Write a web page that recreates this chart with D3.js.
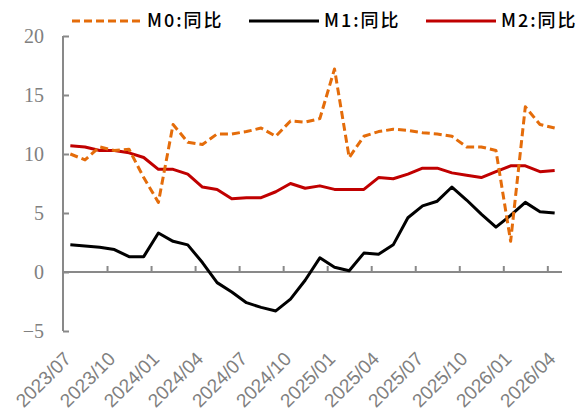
<!DOCTYPE html>
<meta charset="utf-8">
<style>
body { margin: 0; background: #fff; }
.ylab text { font: 20px "Liberation Serif", "Times New Roman", serif; fill: #808080; }
.xlab { font: 19px "Liberation Sans", Arial, sans-serif; fill: #808080; }
.legend text { font: 500 18px "Noto Sans CJK SC", sans-serif; fill: #000; }
</style>
<svg width="579" height="414"></svg>
<script src="https://d3js.org/d3.v7.min.js"></script>
<script>

var months = ["2023/07","2023/08","2023/09","2023/10","2023/11","2023/12",
  "2024/01","2024/02","2024/03","2024/04","2024/05","2024/06",
  "2024/07","2024/08","2024/09","2024/10","2024/11","2024/12",
  "2025/01","2025/02","2025/03","2025/04","2025/05","2025/06",
  "2025/07","2025/08","2025/09","2025/10","2025/11","2025/12",
  "2026/01","2026/02","2026/03","2026/04"];

var m0 = [10.0, 9.5, 10.6, 10.3, 10.4, 8.0, 5.9, 12.5, 11.0, 10.8,
  11.7, 11.7, 11.9, 12.2, 11.5, 12.8, 12.7, 13.0, 17.2, 9.7,
  11.5, 11.9, 12.1, 12.0, 11.8, 11.7, 11.5, 10.6, 10.6, 10.3,
  2.6, 14.0, 12.5, 12.2];
var m1 = [2.3, 2.2, 2.1, 1.9, 1.3, 1.3, 3.3, 2.6, 2.3, 0.8,
  -0.9, -1.7, -2.6, -3.0, -3.3, -2.3, -0.7, 1.2, 0.4, 0.1,
  1.6, 1.5, 2.3, 4.6, 5.6, 6.0, 7.2, 6.1, 4.9, 3.8,
  4.8, 5.9, 5.1, 5.0];
var m2 = [10.7, 10.6, 10.3, 10.3, 10.1, 9.7, 8.7, 8.7, 8.3, 7.2,
  7.0, 6.2, 6.3, 6.3, 6.8, 7.5, 7.1, 7.3, 7.0, 7.0,
  7.0, 8.0, 7.9, 8.3, 8.8, 8.8, 8.4, 8.2, 8.0, 8.5,
  9.0, 9.0, 8.5, 8.6];

var yTicks = [-5, 0, 5, 10, 15, 20];
var labelMonths = months.filter(function(d, i) { return i % 3 == 0; });

var series = [
  {name: "M0:同比", values: m0, color: "#E46C0A", dash: "8,4"},
  {name: "M1:同比", values: m1, color: "#000000", dash: null},
  {name: "M2:同比", values: m2, color: "#C00000", dash: null}
];

var svg = d3.select("svg");
var plotL = 63, plotR = 562, plotT = 36, plotB = 331;

var x = d3.scaleBand().domain(months).range([plotL, plotR]);
var xb = d3.scaleLinear().domain([0, months.length]).range([plotL, plotR]); // category boundaries
var y = d3.scaleLinear().domain([-5, 20]).range([plotB, plotT]);

// y axis, ticks pointing inward
var gy = svg.append("g").attr("class", "ylab")
  .attr("transform", "translate(" + plotL + ",0)")
  .call(d3.axisLeft(y).tickValues(yTicks).tickSize(-6).tickPadding(19).tickFormat(d3.format("d")));
gy.select(".domain").attr("stroke", "#898989").attr("stroke-width", 2).attr("d", "M0," + plotT + "V" + plotB);
gy.selectAll(".tick line").attr("stroke", "#898989").attr("stroke-width", 2);
gy.selectAll(".tick text").attr("dy", "0.34em");

// x axis at zero
var gx = svg.append("g")
  .attr("transform", "translate(0," + y(0) + ")")
  .call(d3.axisBottom(xb).tickValues(d3.range(3, months.length, 3)).tickSize(-6).tickFormat(""));
gx.select(".domain").attr("stroke", "#898989").attr("stroke-width", 2).attr("d", "M" + plotL + ",0H" + plotR);
gx.selectAll(".tick line").attr("stroke", "#898989").attr("stroke-width", 2);

// month labels along the bottom
svg.append("g").selectAll("text")
  .data(labelMonths)
  .join("text")
  .attr("class", "xlab")
  .attr("text-anchor", "end")
  .attr("transform", function(d) {
    return "translate(" + (x(d) + x.bandwidth() / 2 + 2) + ",360) rotate(-45)";
  })
  .text(function(d) { return d; });

var line = d3.line()
  .x(function(d, i) { return x(months[i]) + x.bandwidth() / 2; })
  .y(function(d) { return y(d); });

// draw M2, M1 then M0 on top
svg.append("g").selectAll("path")
  .data([series[2], series[1], series[0]])
  .join("path")
  .attr("fill", "none")
  .attr("stroke", function(d) { return d.color; })
  .attr("stroke-width", 3)
  .attr("stroke-dasharray", function(d) { return d.dash; })
  .attr("stroke-linejoin", "round")
  .attr("d", function(d) { return line(d.values); });

// legend
var legX = [72, 249, 426];
var leg = svg.append("g").attr("class", "legend")
  .selectAll("g").data(series).join("g")
  .attr("transform", function(d, i) { return "translate(" + legX[i] + ",21)"; });
leg.append("line")
  .attr("x1", 0).attr("x2", 70)
  .attr("stroke", function(d) { return d.color; })
  .attr("stroke-width", 3)
  .attr("stroke-dasharray", function(d) { return d.dash; });
leg.append("text")
  .attr("x", 75).attr("dy", "0.35em")
  .attr("letter-spacing", 2)
  .text(function(d) { return d.name; });

</script>
